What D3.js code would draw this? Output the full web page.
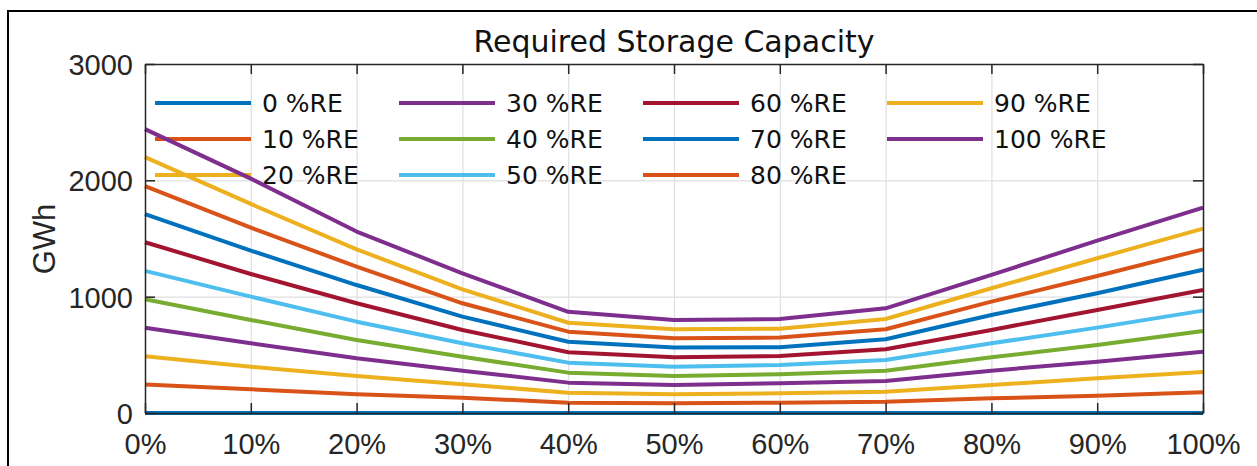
<!DOCTYPE html>
<html>
<head>
<meta charset="utf-8">
<script src="https://cdn.jsdelivr.net/npm/d3@7"></script>
<style>
    body { margin: 0; background: #fff; }
    svg { display: block; font-family: "DejaVu Sans", sans-serif; }
</style>
</head>
<body>
<div id="chart"></div>
<script>
// x axis: share (%)
const shares = [0, 10, 20, 30, 40, 50, 60, 70, 80, 90, 100];
const xTickLabels = ["0%", "10%", "20%", "30%", "40%", "50%", "60%", "70%", "80%", "90%", "100%"];
const yTicks = [0, 1000, 2000, 3000];

// required storage (GWh) per RE share
const re0   = [0, 0, 0, 0, 0, 0, 0, 0, 0, 0, 0];
const re10  = [244, 204, 161, 132, 89, 83, 89, 97, 126, 149, 178];
const re20  = [488, 398, 318, 247, 175, 161, 169, 183, 241, 298, 352];
const re30  = [732, 599, 470, 364, 261, 241, 255, 275, 364, 441, 527];
const re40  = [978, 800, 628, 484, 347, 318, 333, 364, 479, 585, 705];
const re50  = [1222, 1000, 785, 599, 433, 398, 413, 456, 599, 734, 880];
const re60  = [1468, 1195, 943, 714, 522, 479, 490, 548, 714, 886, 1058];
const re70  = [1710, 1396, 1100, 828, 613, 562, 565, 634, 843, 1029, 1232];
const re80  = [1950, 1593, 1258, 943, 699, 642, 648, 720, 957, 1178, 1407];
const re90  = [2200, 1797, 1407, 1063, 776, 720, 725, 808, 1072, 1330, 1585];
const re100 = [2440, 2015, 1560, 1200, 870, 800, 808, 900, 1187, 1482, 1765];

const seriesNames = ["0 %RE", "10 %RE", "20 %RE", "30 %RE", "40 %RE", "50 %RE",
                     "60 %RE", "70 %RE", "80 %RE", "90 %RE", "100 %RE"];
const seriesValues = [re0, re10, re20, re30, re40, re50, re60, re70, re80, re90, re100];

// matlab default colour order, cycling
const colors = ["#0072BD", "#D95319", "#EDB120", "#7E2F8E", "#77AC30", "#4DBEEE", "#A2142F"];

var width = 1257, height = 466;
var margin = {top: 64, right: 54, bottom: 53, left: 145};
var plotW = width - margin.left - margin.right,
    plotH = height - margin.top - margin.bottom;
var tickFont = "Liberation Sans, Arial, sans-serif";

var svg = d3.select("#chart").append("svg")
    .attr("width", width)
    .attr("height", height);

// figure frame (cropped at right/bottom)
svg.append("rect")
    .attr("x", 8).attr("y", 11)
    .attr("width", width + 10).attr("height", height + 10)
    .attr("fill", "#fff")
    .attr("stroke", "#000")
    .attr("stroke-width", 2);

var x = d3.scaleLinear().domain([0, 100]).range([0, plotW]);
var y = d3.scaleLinear().domain([0, 3000]).range([plotH, 0]);

var g = svg.append("g")
    .attr("transform", "translate(" + margin.left + "," + margin.top + ")");

// grid
g.append("g")
    .call(d3.axisBottom(x).tickValues(shares).tickSize(-plotH).tickFormat(""))
    .attr("transform", "translate(0," + plotH + ")")
    .call(s => s.select(".domain").remove())
    .selectAll("line").attr("stroke", "#dfdfdf").attr("stroke-width", 1.2);
g.append("g")
    .call(d3.axisLeft(y).tickValues(yTicks).tickSize(-plotW).tickFormat(""))
    .call(s => s.select(".domain").remove())
    .selectAll("line").attr("stroke", "#dfdfdf").attr("stroke-width", 1.2);

// legend (3 rows, 4 columns, no box)
var legCol = 244, legRow = 36;
var legend = g.append("g").attr("transform", "translate(10,39)");
seriesNames.forEach(function(name, i) {
    var col = Math.floor(i / 3), row = i % 3;
    var item = legend.append("g")
        .attr("transform", "translate(" + (col * legCol) + "," + (row * legRow) + ")");
    item.append("line")
        .attr("x1", 0).attr("x2", 96)
        .attr("stroke", colors[i % colors.length])
        .attr("stroke-width", 4);
    item.append("text")
        .attr("x", 107)
        .attr("dy", "0.36em")
        .attr("font-size", 25)
        .attr("fill", "#111")
        .text(name);
});

// lines
var line = d3.line()
    .x(function(d, i) { return x(shares[i]); })
    .y(function(d) { return y(d); });

g.selectAll(".series")
    .data(seriesValues)
    .enter().append("path")
    .attr("class", "series")
    .attr("d", line)
    .attr("fill", "none")
    .attr("stroke", function(d, i) { return colors[i % colors.length]; })
    .attr("stroke-width", 4)
    .attr("stroke-linejoin", "round");

// axes box with inward ticks
var axisColor = "#262626";
var xa = g.append("g")
    .attr("transform", "translate(0," + plotH + ")")
    .call(d3.axisBottom(x).tickValues(shares).tickSizeInner(-10).tickSizeOuter(0)
        .tickPadding(20).tickFormat(function(d, i) { return xTickLabels[i]; }));
var xt = g.append("g")
    .call(d3.axisTop(x).tickValues(shares).tickSizeInner(-10).tickSizeOuter(0).tickFormat(""));
var ya = g.append("g")
    .call(d3.axisLeft(y).tickValues(yTicks).tickSizeInner(-10).tickSizeOuter(0)
        .tickPadding(12).tickFormat(d3.format("d")));
var yr = g.append("g")
    .attr("transform", "translate(" + plotW + ",0)")
    .call(d3.axisRight(y).tickValues(yTicks).tickSizeInner(-10).tickSizeOuter(0).tickFormat(""));

[xa, xt, ya, yr].forEach(function(a) {
    a.select(".domain").attr("stroke", axisColor).attr("stroke-width", 1.5);
    a.selectAll(".tick line").attr("stroke", axisColor).attr("stroke-width", 1.5);
    a.selectAll("text").attr("font-size", 29).attr("fill", axisColor)
        .attr("font-family", tickFont);
});
ya.selectAll("text").attr("dy", "0.36em");

// title
svg.append("text")
    .attr("x", margin.left + plotW / 2)
    .attr("y", 52)
    .attr("text-anchor", "middle")
    .attr("font-size", 30)
    .attr("fill", "#111")
    .text("Required Storage Capacity");

// y label
svg.append("text")
    .attr("transform", "translate(55," + 239 + ") rotate(-90)")
    .attr("text-anchor", "middle")
    .attr("font-family", tickFont)
    .attr("font-size", 31)
    .attr("fill", axisColor)
    .text("GWh");
</script>
</body>
</html>
